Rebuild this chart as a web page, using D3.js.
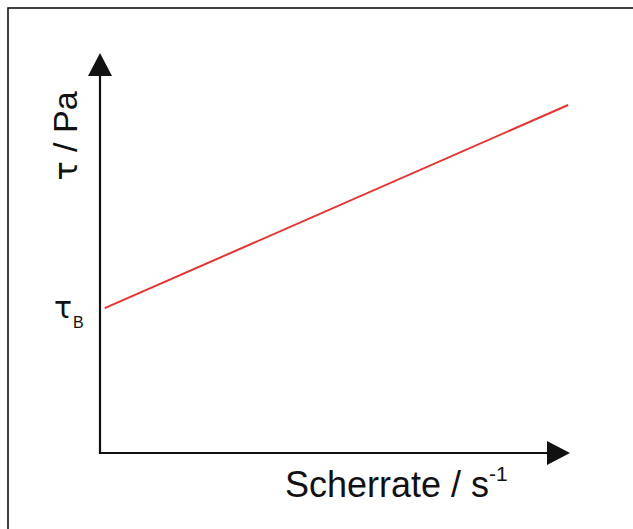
<!DOCTYPE html>
<html><head><meta charset="utf-8">
<script src="https://cdn.jsdelivr.net/npm/d3@7"></script>
<style>html,body{margin:0;padding:0;background:#fff;}svg{display:block;}</style>
</head><body>
<script>
// Data (relative units)
const shearRate = [1, 99.6];
const stress = [36.2, 87];
const yieldLabel = "τ";
const yieldSub = "B";
const xLabel = "Scherrate / s";
const xLabelSup = "-1";
const yLabelTau = "τ";
const yLabelRest = " / Pa";

const W = 633, H = 529;
const svg = d3.select("body").append("svg").attr("width", W).attr("height", H);
svg.append("rect").attr("width", W).attr("height", H).attr("fill", "#fff");

// outer frame (extends beyond right and bottom edges)
svg.append("rect").attr("x", 8).attr("y", 8).attr("width", 700).attr("height", 600)
  .attr("fill", "none").attr("stroke", "#111").attr("stroke-width", 1.6);

const x = d3.scaleLinear().domain([0, 100]).range([100, 570]);
const y = d3.scaleLinear().domain([0, 100]).range([453, 53]);

const ah = 23, aw = 12;
// y axis
svg.append("line").attr("x1", x(0)).attr("x2", x(0)).attr("y1", y(0)+1).attr("y2", y(100)+ah)
  .attr("stroke", "#111").attr("stroke-width", 2.2);
svg.append("path").attr("d", `M${x(0)},${y(100)} L${x(0)-aw},${y(100)+ah} L${x(0)+aw},${y(100)+ah} Z`).attr("fill", "#111");
// x axis
svg.append("line").attr("x1", x(0)-1).attr("x2", x(100)-ah).attr("y1", y(0)).attr("y2", y(0))
  .attr("stroke", "#111").attr("stroke-width", 2.2);
svg.append("path").attr("d", `M${x(100)},${y(0)} L${x(100)-ah},${y(0)-aw} L${x(100)-ah},${y(0)+aw} Z`).attr("fill", "#111");

// Bingham line
const line = d3.line().x(d => x(d[0])).y(d => y(d[1]));
svg.append("path").datum(d3.zip(shearRate, stress)).attr("d", line)
  .attr("fill", "none").attr("stroke", "#e3342f").attr("stroke-width", 2);

const font = "Arial, 'Liberation Sans', sans-serif";
const greek = "'DejaVu Sans', sans-serif";
// x label
const xt = svg.append("text").attr("x", 285).attr("y", 497).attr("font-family", font).attr("font-size", 36).attr("fill", "#111");
xt.append("tspan").text(xLabel);
xt.append("tspan").attr("font-size", 21).attr("dy", -16).text(xLabelSup);

// y label
const yt = svg.append("text").attr("transform", "translate(77,136) rotate(-90)").attr("text-anchor", "middle")
  .attr("font-family", font).attr("font-size", 34).attr("fill", "#111");
yt.append("tspan").attr("font-family", greek).attr("font-size", 32).text(yLabelTau);
yt.append("tspan").text(yLabelRest);

// tau_B
svg.append("text").attr("x", 54).attr("y", 318).attr("font-family", greek).attr("font-size", 30)
  .attr("fill", "#111").text(yieldLabel);
svg.append("text").attr("x", 73).attr("y", 328).attr("font-family", font).attr("font-size", 16)
  .attr("fill", "#111").text(yieldSub);
</script>
</body></html>
